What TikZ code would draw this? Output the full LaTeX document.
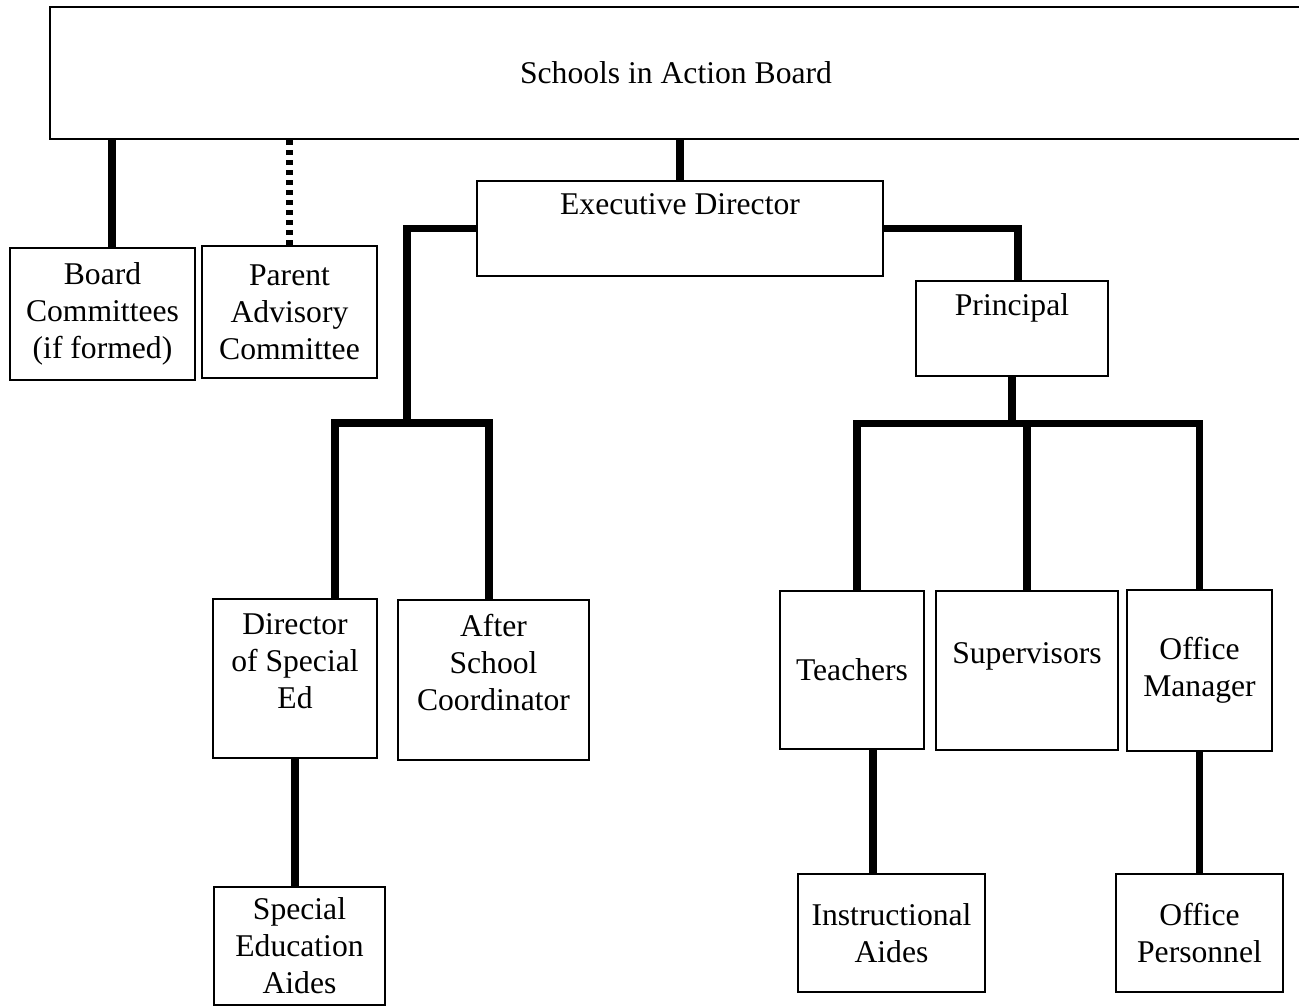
\documentclass[tikz,border=0pt]{standalone}
\usepackage{fontspec}
\setmainfont{Liberation Serif}
\usetikzlibrary{positioning}

\begin{document}
\begin{tikzpicture}[
orgnode/.style={rectangle, draw=black, line width=1pt, align=center, inner sep=3pt,
font=\fontsize{18}{21}\selectfont},
link/.style={line width=4pt},
dotlink/.style={line width=3.5pt, dash pattern=on 1mm off 1mm}
]
\useasboundingbox (0,0) rectangle (25.98,20.14);
%Nodes
\node[orgnode, minimum width=25.04cm, minimum height=2.64cm] (board) at (13.52,18.68) {Schools in Action Board};
\node[orgnode, minimum width=3.7cm,  minimum height=2.64cm] (bc)   at (2.05,13.86) {Board\\Committees\\(if formed)};
\node[orgnode, minimum width=3.5cm,  minimum height=2.64cm] (pac)  at (5.79,13.9)  {Parent\\Advisory\\Committee};
\node[orgnode, minimum width=8.12cm, minimum height=1.9cm]  (ed)   at (13.6,15.57) {Executive Director\\\strut};
\node[orgnode, minimum width=3.84cm, minimum height=1.9cm]  (prin) at (20.24,13.57) {Principal\\\strut};
\node[orgnode, minimum width=3.28cm, minimum height=3.18cm] (dse)  at (5.9,6.57)   {Director\\of Special\\Ed\\[-7pt]\strut};
\node[orgnode, minimum width=3.82cm, minimum height=3.2cm]  (asc)  at (9.87,6.54)  {After\\School\\Coordinator\\[-7pt]\strut};
\node[orgnode, minimum width=3.42cm, minimum height=2.36cm] (sea)  at (5.99,1.22)  {Special\\Education\\Aides};
\node[orgnode, minimum width=2.88cm, minimum height=3.16cm] (tea)  at (17.04,6.74) {Teachers};
\node[orgnode, minimum width=3.64cm, minimum height=3.18cm] (sup)  at (20.54,6.73) {Supervisors\\[-7pt]\strut};
\node[orgnode, minimum width=2.9cm,  minimum height=3.22cm] (om)   at (23.99,6.73) {Office\\Manager};
\node[orgnode, minimum width=3.74cm, minimum height=2.36cm] (ia)   at (17.83,1.48) {Instructional\\Aides};
\node[orgnode, minimum width=3.34cm, minimum height=2.36cm] (op)   at (23.99,1.48) {Office\\Personnel};
\coordinate (lsplit) at (8.14,11.68);
\coordinate[below=0.94cm of prin.south] (rsplit);

%Lines
\draw[link] ([xshift=0.19cm]bc.north) -- ([xshift=0.19cm]bc.north |- board.south);
\draw[dotlink] (pac.north) -- (pac.north |- board.south);
\draw[link] (ed.north) -- (ed.north |- board.south);
\draw[link] (ed.west) -| (lsplit);
\draw[link] ([xshift=0.8cm]dse.north) |- (lsplit) -| ([xshift=-0.09cm]asc.north);
\draw[link] (dse.south) -- (dse.south |- sea.north);
\draw[link] (ed.east) -| ([xshift=0.12cm]prin.north);
\draw[link] (prin.south) -- (rsplit);
\draw[link] ([xshift=0.1cm]tea.north) |- (rsplit) -| (om.north);
\draw[link] (sup.north) -- (sup.north |- rsplit);
\draw[link] ([xshift=0.42cm]tea.south) -- ([xshift=0.42cm]tea.south |- ia.north);
\draw[link] (om.south) -- (op.north);
\end{tikzpicture}
\end{document}
